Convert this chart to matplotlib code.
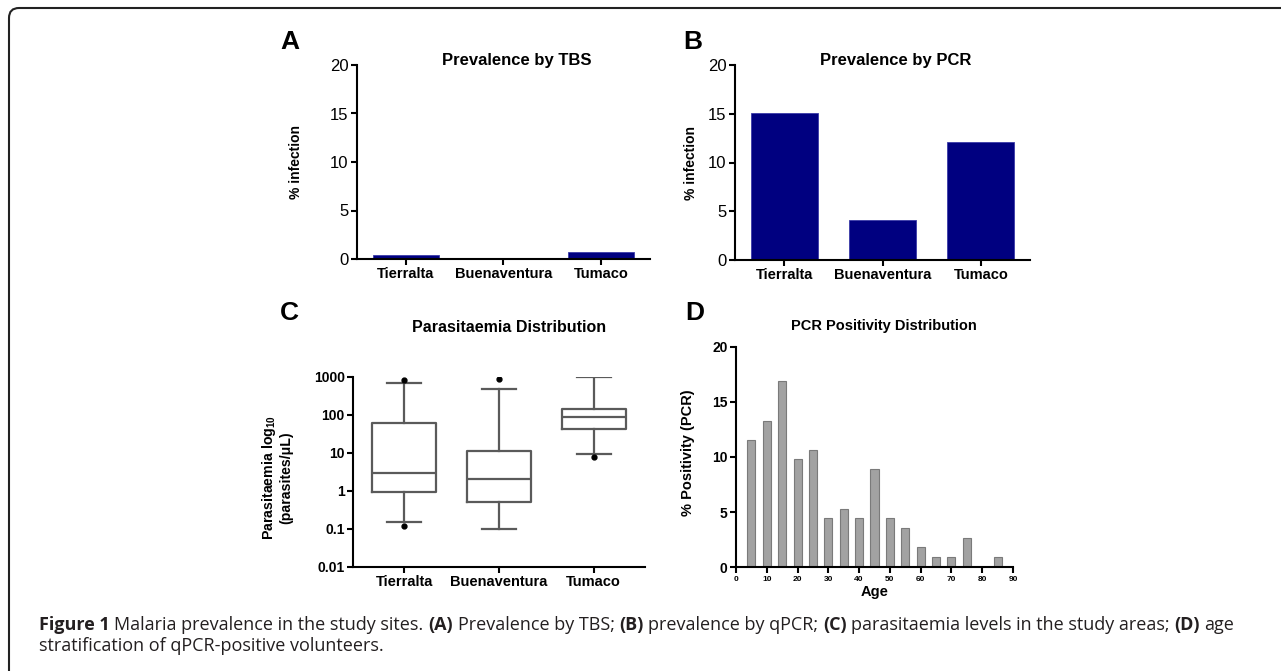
import matplotlib
matplotlib.use("Agg")
import matplotlib.pyplot as plt
from matplotlib.patches import FancyBboxPatch
from matplotlib.transforms import IdentityTransform

# ── Data ─────────────────────────────────────────────────────────────
sites = ["Tierralta", "Buenaventura", "Tumaco"]
tbs_prev = [0.45, 0.0, 0.75]
pcr_prev = [15.1, 4.1, 12.1]

# parasitaemia box stats (parasites/uL)
par_whislo = [0.147, 0.1, 9.0]
par_q1 = [0.94, 0.49, 42]
par_med = [2.86, 2.07, 85]
par_q3 = [59, 11.3, 138]
par_whishi = [668, 473, 980]
par_fliers = [[816, 0.117], [851], [7.9]]

age_bins = [5, 10, 15, 20, 25, 30, 35, 40, 45, 50, 55, 60, 65, 70, 75, 80, 85]
age_pos = [11.5, 13.3, 16.9, 9.8, 10.6, 4.5, 5.3, 4.5, 8.9, 4.5, 3.6, 1.8, 0.9, 0.9, 2.7, 0.0, 0.9]

W, H = 1281, 671
FONT = "Liberation Sans"

plt.rcParams["font.family"] = FONT
plt.rcParams["font.weight"] = "bold"
plt.rcParams["mathtext.fontset"] = "custom"
plt.rcParams["mathtext.bf"] = FONT + ":bold"
plt.rcParams["mathtext.rm"] = FONT + ":bold"


def px_axes(fig, left, right, top, bottom):
    return fig.add_axes([left / W, 1 - bottom / H, (right - left) / W, (bottom - top) / H])


def style_axes(ax, size=10, ysize=None, yweight="bold"):
    for s in ("top", "right"):
        ax.spines[s].set_visible(False)
    for s in ("left", "bottom"):
        ax.spines[s].set_linewidth(1.5)
    ax.tick_params(direction="out", length=4, width=1.5, labelsize=size, pad=2)
    if ysize:
        ax.tick_params(axis="y", labelsize=ysize)
    for lab in ax.get_xticklabels():
        lab.set_fontweight("bold")
    for lab in ax.get_yticklabels():
        lab.set_fontweight(yweight)


def bar_panel(ax, values, title):
    ax.bar(range(len(sites)), values, width=0.68, color="#000080", edgecolor="#3a3aa8", linewidth=0.6)
    ax.set_xlim(-0.5, 2.5)
    ax.set_ylim(0, 20)
    ax.set_yticks([0, 5, 10, 15, 20])
    ax.set_xticks(range(len(sites)))
    ax.set_xticklabels(sites)
    style_axes(ax, size=10.5, ysize=12, yweight="normal")
    ax.text(0.545, 1.0, title, transform=ax.transAxes, ha="center", va="baseline",
            fontsize=12, fontweight="bold")


fig = plt.figure(figsize=(W / 100, H / 100), dpi=100)

# ── A ──
axA = px_axes(fig, 357, 650, 65, 259)
bar_panel(axA, tbs_prev, "Prevalence by TBS")
axA.set_ylabel("% infection", fontsize=10, fontweight="bold")
axA.yaxis.set_label_coords(-0.184, 0.5)

# ── B ──
axB = px_axes(fig, 735, 1030, 65, 260)
bar_panel(axB, pcr_prev, "Prevalence by PCR")
axB.set_ylabel("% infection", fontsize=10, fontweight="bold")
axB.yaxis.set_label_coords(-0.125, 0.5)

# ── C ──
axC = px_axes(fig, 353, 645, 376.7, 566.7)
stats = []
for i in range(len(sites)):
    stats.append(dict(whislo=par_whislo[i], q1=par_q1[i], med=par_med[i], q3=par_q3[i],
                      whishi=par_whishi[i], fliers=par_fliers[i]))
grey = dict(color="#5a5a5a", linewidth=1.6)
axC.bxp(stats, positions=range(len(sites)), widths=0.67, capwidths=0.36,
        boxprops=grey, whiskerprops=grey, capprops=grey, medianprops=grey,
        flierprops=dict(marker="o", markersize=3.5, markerfacecolor="black",
                        markeredgecolor="black"))
axC.set_yscale("log")
axC.set_ylim(0.01, 1000)
axC.set_yticks([0.01, 0.1, 1, 10, 100, 1000])
axC.set_yticklabels(["0.01", "0.1", "1", "10", "100", "1000"])
axC.minorticks_off()
axC.set_xlim(-0.54, 2.54)
axC.set_xticks(range(len(sites)))
axC.set_xticklabels(sites)
style_axes(axC, size=10.5)
axC.tick_params(axis="y", labelsize=10)
axC.set_ylabel("Parasitaemia log$_{\\mathbf{10}}$\n(parasites/μL)", fontsize=10.2, fontweight="bold",
               linespacing=1.1)
axC.yaxis.set_label_coords(-0.204, 0.47)
axC.text(0.534, 1.237, "Parasitaemia Distribution", transform=axC.transAxes,
         ha="center", va="baseline", fontsize=11.5, fontweight="bold")

# ── D ──
axD = px_axes(fig, 736, 1013, 346.7, 567.3)
axD.bar(age_bins, age_pos, width=2.6, color="#a2a2a2", edgecolor="#7a7a7a", linewidth=0.8)
axD.set_xlim(0, 90)
axD.set_ylim(0, 20)
axD.set_xticks(range(0, 91, 10))
axD.set_yticks([0, 5, 10, 15, 20])
style_axes(axD)
axD.tick_params(axis="x", labelsize=6)
axD.set_ylabel("% Positivity (PCR)", fontsize=10.5, fontweight="bold")
axD.yaxis.set_label_coords(-0.148, 0.52)
axD.set_xlabel("Age", fontsize=10.5, fontweight="bold", labelpad=2)
axD.text(0.534, 1.076, "PCR Positivity Distribution", transform=axD.transAxes,
         ha="center", va="baseline", fontsize=10.5, fontweight="bold")

# panel letters
for letter, x, y in [("A", 280, 49), ("B", 683, 49), ("C", 280, 320), ("D", 685, 320)]:
    fig.text(x / W, 1 - y / H, letter, fontsize=19, fontweight="bold", va="baseline")

# outer frame (rounded top-left corner)
frame = FancyBboxPatch((9, -60), 1400, H - 8 + 60, boxstyle="round,pad=0,rounding_size=10",
                       transform=IdentityTransform(), facecolor="none", edgecolor="#222222",
                       linewidth=1.5, clip_on=False)
fig.add_artist(frame)

# ── Caption ──
renderer = fig.canvas.get_renderer()
CAP_FONT = "Open Sans"
CAP_SIZE = 12.95
CAP_COLOR = "#231f20"


def text_width(s, bold):
    t = fig.text(0, 0, s, fontsize=CAP_SIZE, family=CAP_FONT,
                 fontweight="bold" if bold else "normal")
    w = t.get_window_extent(renderer).width
    t.remove()
    return w


space = text_width("a a", False) - text_width("aa", False)


def rich_line(x, y, parts):
    for text, bold in parts:
        t = fig.text(x / W, 1 - y / H, text, fontsize=CAP_SIZE, family=CAP_FONT,
                     fontweight="bold" if bold else "normal", color=CAP_COLOR, va="baseline")
        x = t.get_window_extent(renderer).x1 + space


rich_line(39, 630, [("Figure 1", True), ("Malaria prevalence in the study sites.", False),
                    ("(A)", True), ("Prevalence by TBS;", False), ("(B)", True),
                    ("prevalence by qPCR;", False), ("(C)", True),
                    ("parasitaemia levels in the study areas;", False), ("(D)", True),
                    ("age", False)])
rich_line(39, 651, [("stratification of qPCR-positive volunteers.", False)])

fig.savefig("out.png", dpi=100)
